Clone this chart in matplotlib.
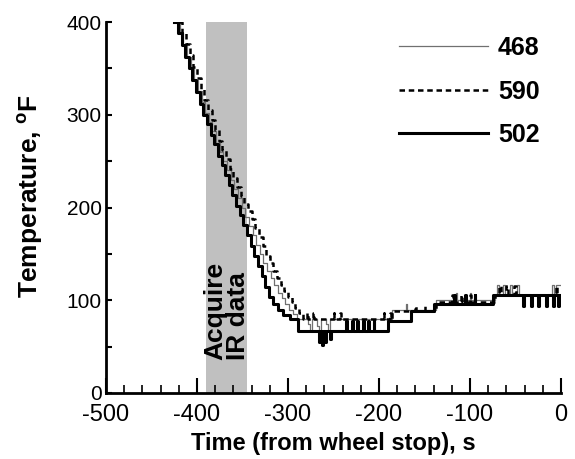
import matplotlib
matplotlib.use('Agg')
from matplotlib import pyplot as plt
from matplotlib.ticker import MultipleLocator

plt.rcParams['font.family'] = ['Liberation Sans', 'DejaVu Sans']
plt.rcParams['mathtext.fontset'] = 'custom'
plt.rcParams['mathtext.rm'] = 'Liberation Sans'
plt.rcParams['mathtext.bf'] = 'Liberation Sans:bold'
plt.rcParams['axes.unicode_minus'] = False

# time before wheel stop (s) and temperature (F) for the three runs
t468 = [-423, -419, -415, -411, -407, -403, -399, -395, -391, -387,
        -383, -379, -375, -371, -367, -363, -359, -355, -351, -347,
        -343, -339, -335, -331, -327, -323, -319, -315, -311, -307,
        -303, -299, -295, -290, -278, -276, -274, -268, -266, -264,
        -258, -256, -254, -200, -186, -170, -169, -137, -115, -114,
        -100, -99, -72, -70, -68, -64, -62, -56, -54, -48,
        -46, -10, -8, -6, 0]
T468 = [400, 388, 375, 362, 350, 338, 326, 314, 302, 292,
        282, 270, 260, 250, 240, 230, 220, 210, 200, 190,
        180, 170, 160, 150, 140, 132, 124, 116, 108, 102,
        96, 90, 85, 80, 74, 67, 80, 72, 67, 80,
        74, 67, 80, 80, 90, 96, 90, 100, 108, 100,
        108, 100, 106, 116, 106, 116, 106, 116, 106, 116,
        106, 116, 106, 116, 116]

t590 = [-420, -416, -412, -408, -404, -400, -396, -392, -388, -384,
        -380, -376, -372, -368, -364, -360, -356, -352, -348, -344,
        -340, -336, -332, -328, -324, -320, -316, -312, -308, -304,
        -300, -296, -292, -288, -284, -279, -278, -272, -271, -250,
        -249, -243, -242, -195, -194, -188, -187, -186, -160, -159,
        -150, -149, -137, -120, -119, -110, -109, -100, -99, -72,
        -68, -66, -60, -58, -52, -50, -44, -6, -4, 0]
T590 = [400, 388, 376, 364, 352, 340, 328, 316, 305, 294,
        284, 272, 262, 252, 242, 232, 222, 212, 204, 196,
        188, 178, 168, 158, 148, 140, 132, 124, 116, 110,
        104, 98, 92, 86, 80, 86, 80, 86, 80, 86,
        80, 86, 80, 86, 80, 86, 80, 88, 94, 88,
        94, 88, 98, 106, 98, 106, 98, 106, 98, 106,
        115, 106, 115, 106, 115, 106, 106, 115, 106, 106]

t502 = [-425, -421, -417, -413, -409, -405, -401, -397, -393, -389,
        -385, -381, -377, -373, -369, -365, -361, -357, -353, -349,
        -345, -341, -337, -333, -329, -325, -321, -316, -311, -305,
        -298, -289, -266, -265, -263, -262, -259, -258, -254, -253,
        -236, -235, -230, -229, -224, -223, -218, -217, -212, -211,
        -206, -205, -190, -165, -140, -118, -117, -105, -104, -95,
        -94, -75, -42, -41, -33, -32, -25, -24, -16, -15,
        -9, -8, -3, -2, 0]
T502 = [400, 388, 375, 362, 350, 338, 325, 312, 300, 290,
        278, 268, 256, 246, 235, 224, 213, 202, 192, 181,
        170, 159, 148, 137, 126, 114, 104, 96, 89, 84,
        80, 67, 55, 67, 52, 67, 55, 67, 58, 67,
        78, 67, 78, 67, 78, 67, 78, 67, 78, 67,
        78, 67, 78, 88, 96, 106, 96, 106, 96, 106,
        96, 106, 94, 106, 94, 106, 94, 106, 94, 106,
        94, 106, 94, 106, 106]

acquire_start = -390
acquire_end = -345


def main():
    fig = plt.figure(figsize=(5.75, 4.59), dpi=100)
    ax = fig.add_axes([106 / 575, 66 / 459, 455 / 575, 371 / 459])

    ax.axvspan(acquire_start, acquire_end, color='#c0c0c0', lw=0, zorder=0)

    ax.plot(t468, T468, drawstyle='steps-post', color='#707070', lw=0.9, label='468')
    ax.plot(t590, T590, drawstyle='steps-post', color='black', lw=1.8,
            linestyle=(0, (2.2, 1.5)), label='590')
    ax.plot(t502, T502, drawstyle='steps-post', color='black', lw=2.2, label='502')

    ax.text((acquire_start + acquire_end) / 2, 36, 'Acquire\nIR data', rotation=90,
            ha='center', va='bottom', multialignment='left',
            fontsize=19, fontweight='bold', linespacing=0.9)

    ax.set_xlim(-500, 0)
    ax.set_ylim(0, 400)
    ax.xaxis.set_major_locator(MultipleLocator(100))
    ax.xaxis.set_minor_locator(MultipleLocator(20))
    ax.yaxis.set_major_locator(MultipleLocator(100))
    ax.yaxis.set_minor_locator(MultipleLocator(50))

    for side in ['top', 'right']:
        ax.spines[side].set_visible(False)
    for side in ['left', 'bottom']:
        ax.spines[side].set_linewidth(2)

    ax.tick_params(axis='x', which='major', direction='in', length=11, width=1.5,
                   labelsize=17, pad=8)
    ax.tick_params(axis='x', which='minor', direction='in', length=6, width=1.2)
    ax.tick_params(axis='y', which='both', direction='in', length=4, width=1.5,
                   labelsize=15, pad=3)

    ax.set_xlabel('Time (from wheel stop), s', fontsize=17, fontweight='bold', labelpad=4)
    ax.set_ylabel(r'Temperature, $\mathbf{^{o}F}$', fontsize=19, fontweight='bold')
    ax.yaxis.set_label_coords(-0.135, 0.53)

    ax.legend(loc='upper left', bbox_to_anchor=(0.644, 0.962), frameon=False,
              prop={'size': 18, 'weight': 'bold'}, handlelength=3.56,
              handletextpad=0.4, labelspacing=0.78, borderaxespad=0, borderpad=0)

    fig.savefig('out.png', dpi=100)


if __name__ == "__main__":
    main()
